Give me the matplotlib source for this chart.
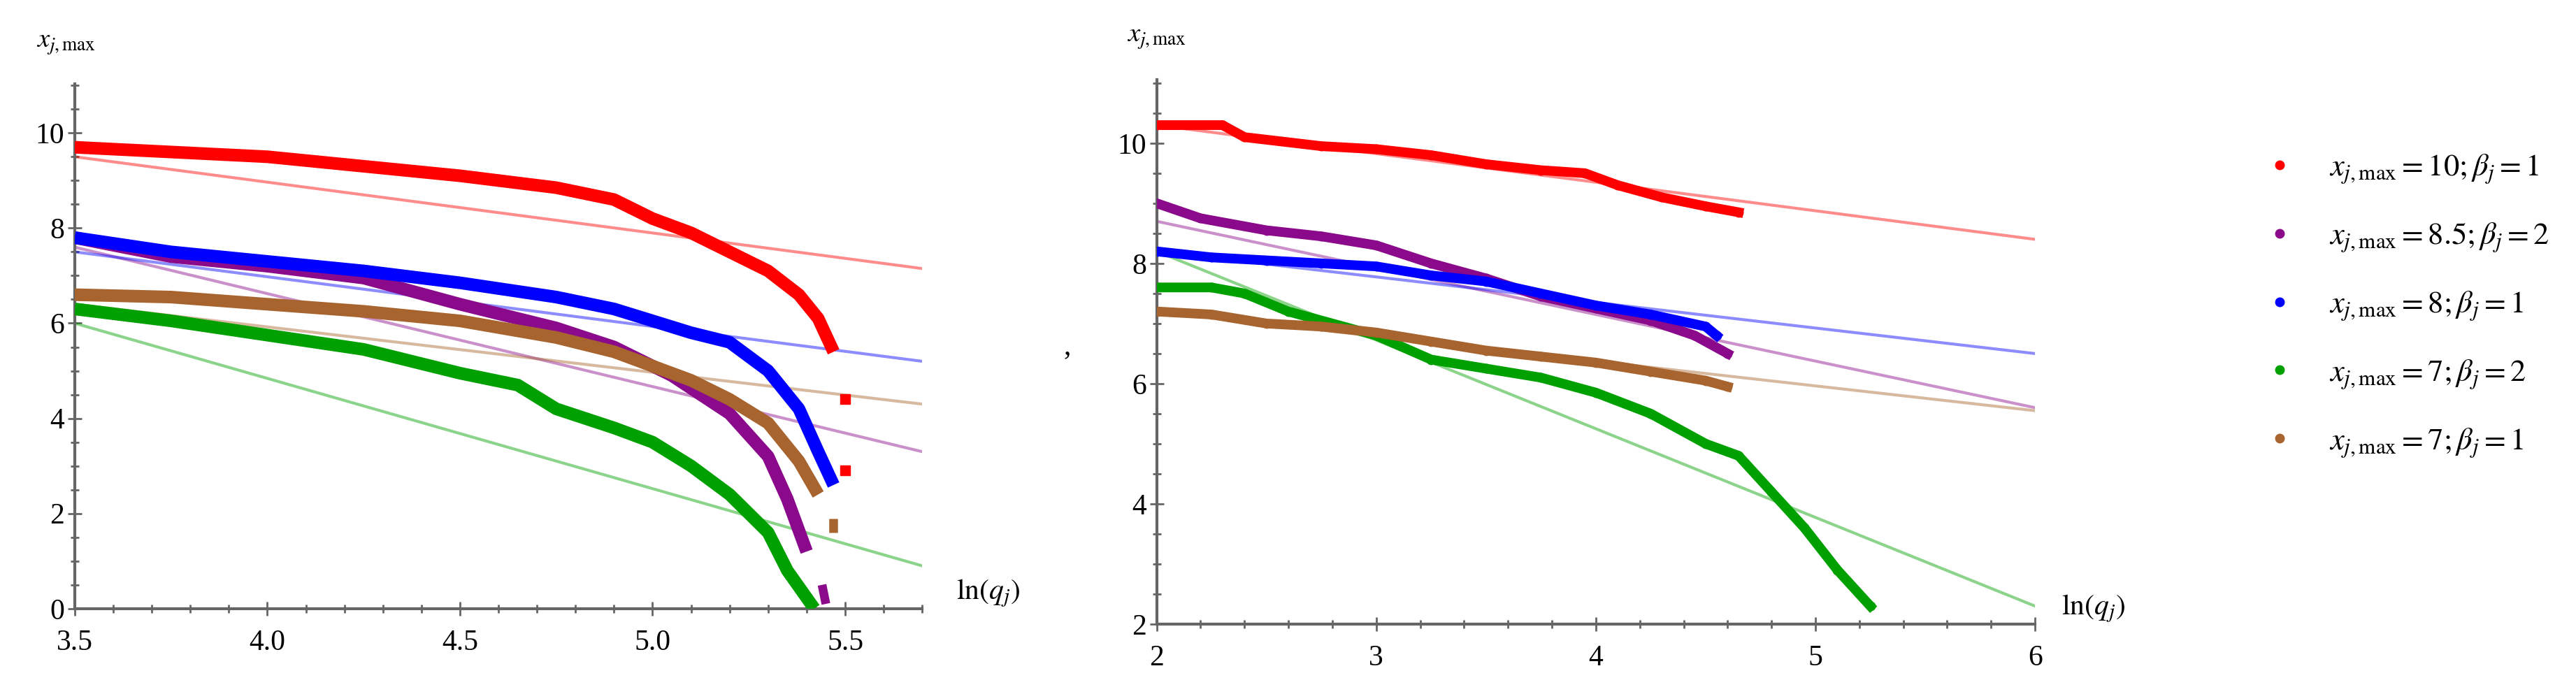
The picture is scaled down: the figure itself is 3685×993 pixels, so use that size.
import matplotlib
matplotlib.use("Agg")
import matplotlib.pyplot as plt

plt.rcParams['font.family'] = ['Liberation Serif', 'DejaVu Serif']
plt.rcParams['mathtext.fontset'] = 'stix'

labels = [r'$x_{j,\mathrm{max}}=10;\beta_j=1$', r'$x_{j,\mathrm{max}}=8.5;\beta_j=2$',
          r'$x_{j,\mathrm{max}}=8;\beta_j=1$', r'$x_{j,\mathrm{max}}=7;\beta_j=2$',
          r'$x_{j,\mathrm{max}}=7;\beta_j=1$']
colors = ['#ff0000', '#8b0a8b', '#0000ff', '#00a000', '#a8642e']

# Left panel data
L_red_x = [3.5, 3.75, 4.0, 4.25, 4.5, 4.75, 4.9, 5.0, 5.1, 5.2, 5.3, 5.38, 5.43, 5.47]
L_red_y = [9.7, 9.6, 9.5, 9.3, 9.1, 8.85, 8.6, 8.2, 7.9, 7.5, 7.1, 6.6, 6.1, 5.4]
L_red_sep_x = [5.5, 5.5]
L_red_sep_y = [4.4, 2.9]
L_pur_x = [3.5, 3.75, 4.0, 4.25, 4.5, 4.75, 4.9, 5.05, 5.2, 5.3, 5.35, 5.4]
L_pur_y = [7.8, 7.4, 7.2, 6.95, 6.4, 5.9, 5.5, 4.9, 4.1, 3.2, 2.3, 1.2]
L_pur_sep_x = [5.44, 5.45]
L_pur_sep_y = [0.5, 0.1]
L_blu_x = [3.5, 3.75, 4.0, 4.25, 4.5, 4.75, 4.9, 5.0, 5.1, 5.2, 5.3, 5.38, 5.43, 5.47]
L_blu_y = [7.8, 7.5, 7.3, 7.1, 6.85, 6.55, 6.3, 6.05, 5.8, 5.6, 5.0, 4.2, 3.3, 2.6]
L_grn_x = [3.5, 3.75, 4.0, 4.25, 4.5, 4.65, 4.75, 4.9, 5.0, 5.1, 5.2, 5.3, 5.35, 5.42]
L_grn_y = [6.3, 6.05, 5.75, 5.45, 4.95, 4.7, 4.2, 3.8, 3.5, 3.0, 2.4, 1.6, 0.8, 0.0]
L_brn_x = [3.5, 3.75, 4.0, 4.25, 4.5, 4.75, 4.9, 5.0, 5.1, 5.2, 5.3, 5.38, 5.43]
L_brn_y = [6.6, 6.55, 6.4, 6.25, 6.05, 5.7, 5.4, 5.1, 4.8, 4.4, 3.9, 3.1, 2.4]
L_brn_sep_x = [5.47, 5.47]
L_brn_sep_y = [1.9, 1.6]
L_fit_x = [3.5, 5.7]
L_fit_y = [[9.5, 7.15], [7.6, 3.3], [7.5, 5.2], [6.0, 0.9], [6.4, 4.3]]

# Right panel data
R_red_x = [2.0, 2.3, 2.4, 2.75, 3.0, 3.25, 3.5, 3.75, 3.95, 4.1, 4.3, 4.5, 4.65]
R_red_y = [10.3, 10.3, 10.1, 9.95, 9.9, 9.8, 9.65, 9.55, 9.5, 9.3, 9.1, 8.95, 8.85]
R_pur_x = [2.0, 2.2, 2.5, 2.75, 3.0, 3.25, 3.5, 3.75, 4.0, 4.25, 4.45, 4.6]
R_pur_y = [9.0, 8.75, 8.55, 8.45, 8.3, 8.0, 7.75, 7.45, 7.25, 7.05, 6.8, 6.5]
R_blu_x = [2.0, 2.25, 2.5, 2.75, 3.0, 3.25, 3.5, 3.75, 4.0, 4.25, 4.5, 4.55]
R_blu_y = [8.2, 8.1, 8.05, 8.0, 7.95, 7.8, 7.7, 7.5, 7.3, 7.15, 6.95, 6.8]
R_grn_x = [2.0, 2.25, 2.4, 2.6, 2.8, 3.0, 3.25, 3.5, 3.75, 4.0, 4.25, 4.5, 4.65, 4.8, 4.95, 5.1, 5.25]
R_grn_y = [7.6, 7.6, 7.5, 7.2, 7.0, 6.8, 6.4, 6.25, 6.1, 5.85, 5.5, 5.0, 4.8, 4.2, 3.6, 2.9, 2.3]
R_brn_x = [2.0, 2.25, 2.5, 2.75, 3.0, 3.25, 3.5, 3.75, 4.0, 4.25, 4.5, 4.6]
R_brn_y = [7.2, 7.15, 7.0, 6.95, 6.85, 6.7, 6.55, 6.45, 6.35, 6.2, 6.05, 5.95]
R_fit_x = [2.0, 6.0]
R_fit_y = [[10.3, 8.4], [8.7, 5.6], [8.2, 6.5], [8.2, 2.3], [7.2, 5.55]]

fig = plt.figure(figsize=(36.85, 9.93), dpi=100)
axL = fig.add_axes([0.029, 0.123, 0.329, 0.756])
axR = fig.add_axes([0.449, 0.1007, 0.341, 0.784])

def style(ax):
    for s in ['top', 'right']:
        ax.spines[s].set_visible(False)
    for s in ['left', 'bottom']:
        ax.spines[s].set_color('#666666')
        ax.spines[s].set_linewidth(3)
    ax.minorticks_on()
    ax.tick_params(which='both', direction='inout', color='#666666', width=2, labelsize=30)
    ax.tick_params(which='major', length=14)
    ax.tick_params(which='minor', length=8)
    ax.tick_params(axis='x', pad=14)

def band(ax, x, y, c, lw=13):
    ax.plot(x, y, color=c, lw=lw, solid_capstyle='butt', zorder=3)

Lcurves = [(L_red_x, L_red_y), (L_pur_x, L_pur_y), (L_blu_x, L_blu_y), (L_grn_x, L_grn_y), (L_brn_x, L_brn_y)]
for i, (x, y) in enumerate(Lcurves):
    axL.plot(L_fit_x, L_fit_y[i], color=colors[i], alpha=0.45, lw=3, zorder=2)
    band(axL, x, y, colors[i])
axL.plot(L_red_sep_x, L_red_sep_y, ls='', marker='s', ms=10, color=colors[0], zorder=4)
band(axL, L_pur_sep_x, L_pur_sep_y, colors[1], lw=9)
band(axL, L_brn_sep_x, L_brn_sep_y, colors[4], lw=9)
axL.set_xlim(3.5, 5.7)
axL.set_ylim(0, 11.03)
axL.set_xticks([3.5, 4.0, 4.5, 5.0, 5.5])
axL.set_xticklabels(['3.5', '4.0', '4.5', '5.0', '5.5'])
axL.set_yticks([0, 2, 4, 6, 8, 10])
style(axL)
axL.text(-0.01, 1.07, r'$x_{j,\mathrm{max}}$', transform=axL.transAxes, fontsize=28, ha='center')
axL.text(1.04, 0.0, r'$\ln(q_j)$', transform=axL.transAxes, fontsize=30, va='bottom')

Rcurves = [(R_red_x, R_red_y), (R_pur_x, R_pur_y), (R_blu_x, R_blu_y), (R_grn_x, R_grn_y), (R_brn_x, R_brn_y)]
for i, (x, y) in enumerate(Rcurves):
    axR.plot(R_fit_x, R_fit_y[i], color=colors[i], alpha=0.45, lw=3, zorder=2)
    axR.plot(x, y, color=colors[i], lw=10, zorder=3, marker='o', ms=9, label=labels[i])
axR.set_xlim(2, 6)
axR.set_ylim(2, 11.05)
axR.set_xticks([2, 3, 4, 5, 6])
axR.set_yticks([2, 4, 6, 8, 10])
style(axR)
axR.text(0.0, 1.07, r'$x_{j,\mathrm{max}}$', transform=axR.transAxes, fontsize=28, ha='center')
axR.text(1.03, 0.0, r'$\ln(q_j)$', transform=axR.transAxes, fontsize=30, va='bottom')

fig.text(0.413, 0.49, ',', fontsize=30)

handles = [plt.Line2D([], [], color=c, marker='o', ls='', ms=9) for c in colors]
fig.legend(handles, labels, loc='upper left', bbox_to_anchor=(0.862, 0.82), frameon=False,
           fontsize=32, labelspacing=1.15, handletextpad=0.6)

fig.savefig('out.png', dpi=100)
